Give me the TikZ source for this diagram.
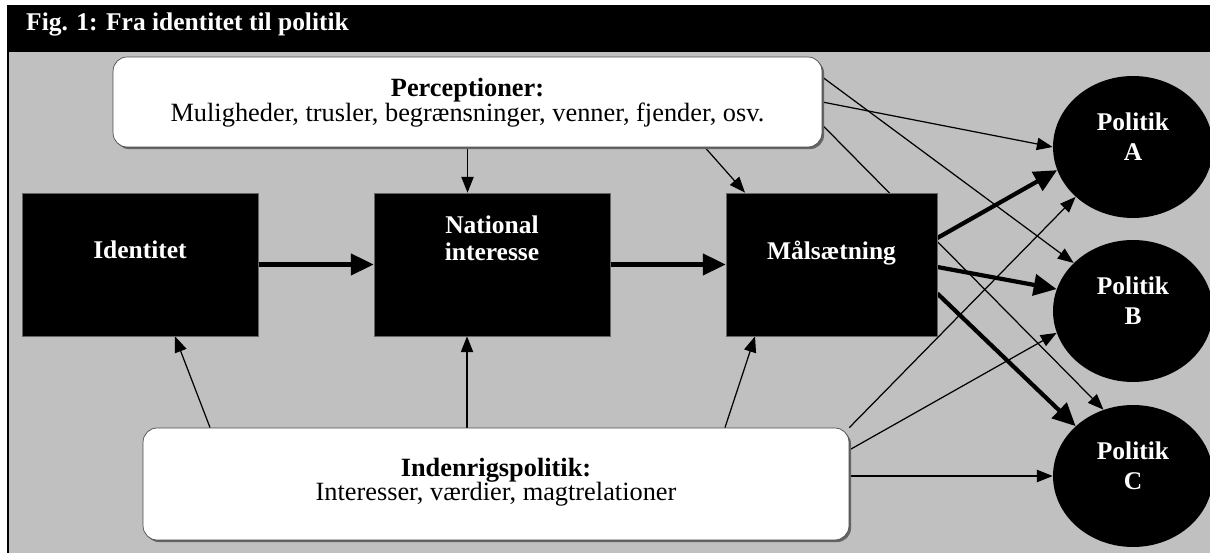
\documentclass[tikz,border=0pt]{standalone}
\usepackage{fontspec}
\setmainfont{Liberation Serif}
\usetikzlibrary{arrows.meta,shapes.geometric,shadows}
\pgfdeclarelayer{back}
\pgfdeclarelayer{wires}
\pgfsetlayers{back,wires,main}
\definecolor{panelgray}{HTML}{C0C0C0}
\tikzset{
  sortboks/.style={fill=black, draw=black!60, text=white, align=center, inner sep=0pt,
    minimum height=2.86cm, font=\fontsize{14.5}{15.5}\selectfont\bfseries},
  hvidboks/.style={fill=white, draw=black!70, rounded corners=8pt, align=center, inner sep=0pt,
    font=\fontsize{15}{14}\selectfont,
    drop shadow={shadow xshift=1.2pt, shadow yshift=-1.2pt, fill=black!60, opacity=1}},
  politik/.style={ellipse, fill=black, text=white, align=center, inner sep=0pt,
    minimum width=3.2cm, minimum height=2.84cm, text depth=0.4cm,
    font=\fontsize{14.5}{17}\selectfont\bfseries},
  tynd/.style={-{Triangle[length=9pt,width=7pt]}, line width=0.7pt},
  tyk/.style={-{Triangle[length=13pt,width=12pt]}, line width=2.4pt}
}
\begin{document}
\begin{tikzpicture}[x=0.02cm,y=-0.02cm]
  \useasboundingbox (0,0) rectangle (1210,553);
  \begin{pgfonlayer}{back}
    \fill[black] (7,5) rectangle (1210,52);
    \fill[panelgray] (7,52) rectangle (1210,553);
    \draw[line width=1.2pt] (8,52) -- (8,553);
  \end{pgfonlayer}
  \node[anchor=west, text=white, font=\fontsize{14.5}{15}\selectfont\bfseries] (titel) at (20,24) {Fig. 1: Fra identitet til politik};

  % boksene
  \node[hvidboks, minimum width=14.18cm, minimum height=1.8cm, text depth=0.08cm] (perc) at (467.5,102)
    {\textbf{Perceptioner:}\\Muligheder, trusler, begrænsninger, venner, fjender, osv.};
  \node[sortboks, minimum width=4.72cm, text depth=0.58cm] (idt) at (140,264.5) {Identitet};
  \node[sortboks, minimum width=4.72cm, text depth=1.04cm] (nat) at (492,264.5) {National\\interesse};
  \node[sortboks, minimum width=4.22cm, text depth=0.58cm] (mal) at (831.5,264.5) {Målsætning};
  \node[hvidboks, minimum width=14.12cm, minimum height=2.24cm, text depth=0.18cm] (ind) at (496,484)
    {\textbf{Indenrigspolitik:}\\Interesser, værdier, magtrelationer};
  \node[politik] (polA) at (1133,147) {Politik\\A};
  \node[politik] (polB) at (1133,311) {Politik\\B};
  \node[politik] (polC) at (1133,476) {Politik\\C};

  % pilene
  \begin{pgfonlayer}{wires}
    \draw[tyk] (idt) -- (nat);
    \draw[tyk] (nat) -- (mal);
    \draw[tynd] (perc.south) -- (perc.south |- nat.north);
    \draw[tynd] ([xshift=4.75cm]perc.south) -- ([xshift=-1.73cm]mal.north);
    \draw[tynd] (perc.east) -- (polA.180);
    \draw[tynd] ([yshift=0.5cm]perc.east) -- (polB.141);
    \draw[tynd] ([yshift=-0.46cm]perc.east) -- (polC.114);
    \draw[tyk] ([yshift=0.53cm]mal.east) -- (polA.197);
    \draw[tyk] ([yshift=-0.05cm]mal.east) -- (polB.164);
    \draw[tyk] ([yshift=-0.58cm]mal.east) -- (polC.139);
    \draw[tynd] (ind.north east) -- (polA.221);
    \draw[tynd] ([yshift=0.68cm]ind.east) -- (polB.196);
    \draw[tynd] (ind.east |- polC) -- (polC);
    \draw[tynd] ([xshift=-5.72cm]ind.north) -- ([xshift=0.7cm]idt.south);
    \draw[tynd] ([xshift=-0.58cm]ind.north) -- ([xshift=-0.58cm]ind.north |- nat.south);
    \draw[tynd] ([xshift=4.58cm]ind.north) -- ([xshift=-1.53cm]mal.south);
  \end{pgfonlayer}
\end{tikzpicture}
\end{document}
